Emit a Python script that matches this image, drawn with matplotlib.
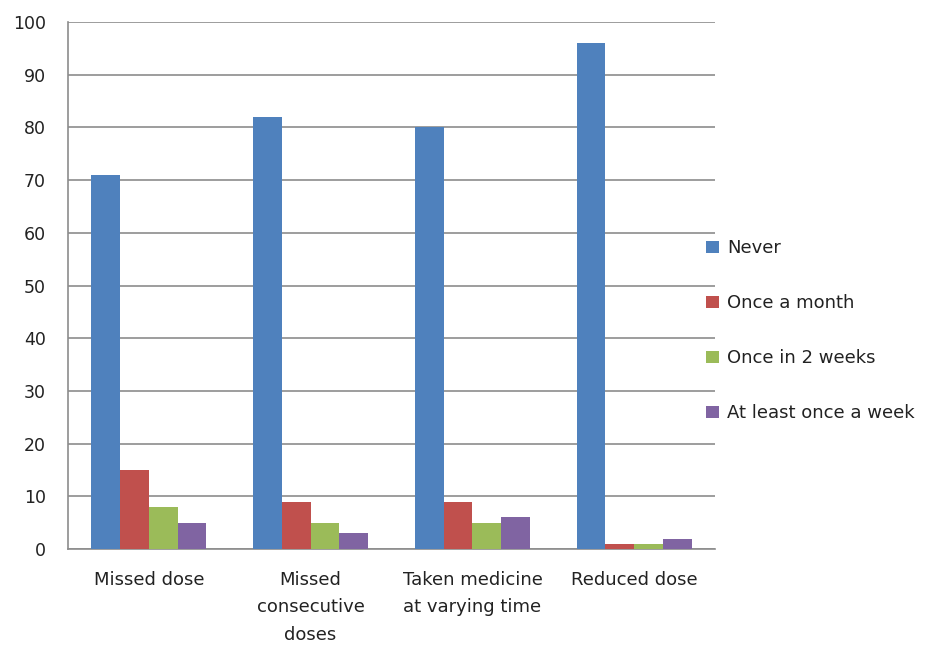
import numpy as np
import matplotlib.pyplot as plt

categories = ["Missed dose", "Missed\nconsecutive\ndoses", "Taken medicine\nat varying time", "Reduced dose"]
series_names = ["Never", "Once a month", "Once in 2 weeks", "At least once a week"]
never = [71, 82, 80, 96]
once_month = [15, 9, 9, 1]
once_2weeks = [8, 5, 5, 1]
weekly = [5, 3, 6, 2]
colors = ["#4F81BD", "#C0504D", "#9BBB59", "#8064A2"]

series = [never, once_month, once_2weeks, weekly]

fig = plt.figure(figsize=(9.3, 6.46), dpi=100)
ax = fig.add_axes([0.073, 0.150, 0.696, 0.816])

x = np.arange(len(categories))
w = 0.178
for i, vals in enumerate(series):
    ax.bar(x + (i - 1.5) * w, vals, w, color=colors[i], label=series_names[i], zorder=3)

ax.set_xlim(-0.5, 3.5)
ax.set_ylim(0, 100)
ax.set_yticks(range(0, 101, 10))
ax.yaxis.grid(True, color="#8c8c8c", linewidth=1.2, zorder=0)
ax.set_xticks(x)
ax.set_xticklabels(categories, fontsize=13, linespacing=1.65, color="#222222")
ax.tick_params(axis="y", labelsize=12.5, length=0, pad=16, labelcolor="#222222")
ax.tick_params(axis="x", length=0, pad=16)
for s in ["top", "right"]:
    ax.spines[s].set_visible(False)
for s in ["left", "bottom"]:
    ax.spines[s].set_color("#8c8c8c")
    ax.spines[s].set_linewidth(1.2)

fig.legend(loc="center left", bbox_to_anchor=(0.742, 0.488), frameon=False,
           fontsize=13, labelspacing=2.05, handlelength=0.7, handleheight=0.7,
           handletextpad=0.45, labelcolor="#222222")

fig.savefig("out.png", dpi=100)
